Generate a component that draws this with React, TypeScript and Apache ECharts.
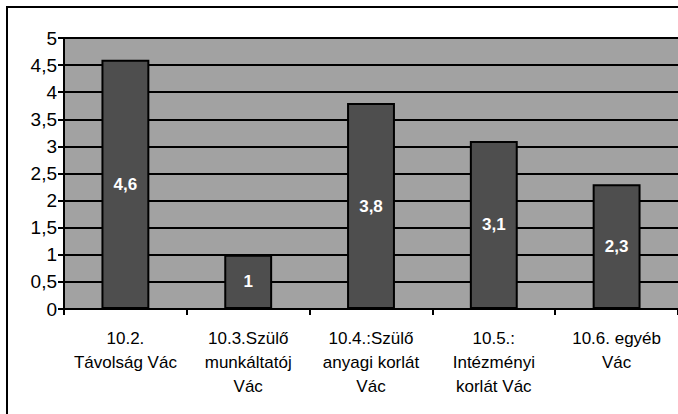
import React, { useEffect, useRef } from "react";
import * as echarts from "echarts";

const categories = [
  "10.2.\nTávolság Vác",
  "10.3.Szülő\nmunkáltatój\nVác",
  "10.4.:Szülő\nanyagi korlát\nVác",
  "10.5.:\nIntézményi\nkorlát Vác",
  "10.6. egyéb\nVác",
];
const values = [4.6, 1, 3.8, 3.1, 2.3];

export default function App() {
  const ref = useRef<HTMLDivElement>(null);
  useEffect(() => {
    const chart = echarts.init(ref.current!, undefined, { renderer: "svg" });
    const font = "Liberation Sans, Arial, sans-serif";
    chart.setOption({
      animation: false,
      backgroundColor: "#ffffff",
      graphic: [
        {
          type: "rect",
          shape: { x: 7, y: 7, width: 700, height: 450 },
          style: { fill: "none", stroke: "#000", lineWidth: 2 },
          z: 10,
        },
      ],
      grid: { left: 64, top: 38, right: -2, bottom: 105, show: true, backgroundColor: "#a2a2a2", borderWidth: 0 },
      xAxis: {
        type: "category",
        data: categories,
        axisLine: { lineStyle: { color: "#000", width: 2 } },
        axisTick: { show: true, length: 6, lineStyle: { color: "#000", width: 2 } },
        axisLabel: {
          color: "#000",
          fontFamily: font,
          fontSize: 17,
          lineHeight: 24,
          margin: 17,
          interval: 0,
        },
      },
      yAxis: {
        type: "value",
        min: 0,
        max: 5,
        interval: 0.5,
        axisLine: { show: true, lineStyle: { color: "#000", width: 2 } },
        axisTick: { show: true, length: 6, lineStyle: { color: "#000", width: 2 } },
        splitLine: { lineStyle: { color: "#000", width: 2 } },
        axisLabel: {
          color: "#000",
          fontFamily: font,
          fontSize: 19,
          margin: 7,
          formatter: (v: number) => String(v).replace(".", ","),
        },
      },
      series: [
        {
          type: "bar",
          data: values,
          barWidth: "39%",
          itemStyle: { color: "#4e4e4e", borderColor: "#000", borderWidth: 2 },
          label: {
            show: true,
            position: "inside",
            color: "#fff",
            fontFamily: font,
            fontWeight: "bold",
            fontSize: 17,
            formatter: (p: any) => String(p.value).replace(".", ","),
          },
        },
      ],
    });
    return () => chart.dispose();
  }, []);
  return (
    <div
      ref={ref}
      style={{ position: "fixed", left: 0, top: 0, width: 678, height: 414 }}
    />
  );
}
